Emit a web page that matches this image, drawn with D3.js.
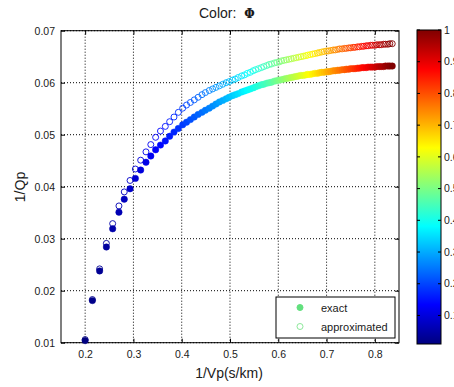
<!DOCTYPE html>
<html>
<head>
<meta charset="utf-8">
<script src="https://cdn.jsdelivr.net/npm/d3@7"></script>
<style>
  body { margin: 0; background: #fff; }
  text { font-family: "Liberation Sans", Arial, sans-serif; fill: #1a1a1a; }
</style>
</head>
<body>
<div id="chart"></div>
<script>
// data
var vpInv = [0.200,0.215,0.230,0.244,0.257,0.270,0.281,0.293,0.304,0.315,
             0.326,0.336,0.346,0.356,0.366,0.375,0.384,0.393,0.402,0.410,
             0.418,0.426,0.434,0.442,0.449,0.457,0.464,0.471,0.478,0.485,
             0.492,0.498,0.505,0.511,0.517,0.524,0.530,0.536,0.542,0.548,
             0.553,0.559,0.565,0.570,0.576,0.581,0.586,0.592,0.597,0.602,
             0.607,0.612,0.617,0.622,0.627,0.632,0.637,0.642,0.647,0.652,
             0.657,0.661,0.666,0.671,0.676,0.681,0.685,0.690,0.695,0.700,
             0.704,0.709,0.714,0.718,0.723,0.727,0.732,0.737,0.741,0.746,
             0.750,0.755,0.759,0.764,0.768,0.773,0.777,0.782,0.786,0.791,
             0.795,0.800,0.804,0.809,0.813,0.818,0.822,0.827,0.831,0.836];

var qExact = [0.0104,0.0181,0.0238,0.0284,0.0319,0.0351,0.0376,0.0396,0.0416,0.0432,
              0.0447,0.0459,0.0471,0.0480,0.0488,0.0497,0.0505,0.0512,0.0519,0.0524,
              0.0529,0.0534,0.0539,0.0543,0.0547,0.0551,0.0555,0.0559,0.0563,0.0566,
              0.0569,0.0572,0.0575,0.0577,0.0579,0.0582,0.0584,0.0586,0.0588,0.0590,
              0.0592,0.0594,0.0596,0.0597,0.0599,0.0600,0.0601,0.0603,0.0604,0.0605,
              0.0606,0.0607,0.0608,0.0609,0.0610,0.0611,0.0612,0.0613,0.0614,0.0614,
              0.0615,0.0616,0.0616,0.0617,0.0618,0.0618,0.0619,0.0620,0.0620,0.0621,
              0.0621,0.0622,0.0623,0.0623,0.0624,0.0624,0.0625,0.0625,0.0626,0.0626,
              0.0627,0.0627,0.0627,0.0628,0.0628,0.0629,0.0629,0.0629,0.0630,0.0630,
              0.0630,0.0630,0.0631,0.0631,0.0631,0.0631,0.0632,0.0632,0.0632,0.0632];

var qApprox = [0.0106,0.0183,0.0242,0.0291,0.0329,0.0363,0.0390,0.0412,0.0434,0.0451,
               0.0467,0.0481,0.0495,0.0507,0.0516,0.0525,0.0534,0.0543,0.0551,0.0557,
               0.0562,0.0567,0.0572,0.0577,0.0581,0.0585,0.0588,0.0591,0.0594,0.0597,
               0.0600,0.0602,0.0605,0.0607,0.0610,0.0613,0.0615,0.0618,0.0620,0.0623,
               0.0625,0.0627,0.0629,0.0631,0.0633,0.0635,0.0636,0.0638,0.0639,0.0640,
               0.0642,0.0643,0.0644,0.0645,0.0646,0.0647,0.0648,0.0649,0.0650,0.0651,
               0.0652,0.0653,0.0654,0.0655,0.0656,0.0657,0.0658,0.0659,0.0660,0.0661,
               0.0661,0.0662,0.0663,0.0663,0.0664,0.0665,0.0665,0.0666,0.0666,0.0667,
               0.0667,0.0668,0.0668,0.0669,0.0669,0.0670,0.0670,0.0671,0.0671,0.0672,
               0.0672,0.0672,0.0673,0.0673,0.0673,0.0674,0.0674,0.0674,0.0675,0.0675];

var phi = [0.01,0.02,0.03,0.04,0.05,0.06,0.07,0.08,0.09,0.10,
           0.11,0.12,0.13,0.14,0.15,0.16,0.17,0.18,0.19,0.20,
           0.21,0.22,0.23,0.24,0.25,0.26,0.27,0.28,0.29,0.30,
           0.31,0.32,0.33,0.34,0.35,0.36,0.37,0.38,0.39,0.40,
           0.41,0.42,0.43,0.44,0.45,0.46,0.47,0.48,0.49,0.50,
           0.51,0.52,0.53,0.54,0.55,0.56,0.57,0.58,0.59,0.60,
           0.61,0.62,0.63,0.64,0.65,0.66,0.67,0.68,0.69,0.70,
           0.71,0.72,0.73,0.74,0.75,0.76,0.77,0.78,0.79,0.80,
           0.81,0.82,0.83,0.84,0.85,0.86,0.87,0.88,0.89,0.90,
           0.91,0.92,0.93,0.94,0.95,0.96,0.97,0.98,0.99,1.00];

var xTicks = [0.2,0.3,0.4,0.5,0.6,0.7,0.8];
var xTickLabels = ["0.2","0.3","0.4","0.5","0.6","0.7","0.8"];
var yTicks = [0.01,0.02,0.03,0.04,0.05,0.06,0.07];
var yTickLabels = ["0.01","0.02","0.03","0.04","0.05","0.06","0.07"];
var cbTicks = [0.1,0.2,0.3,0.4,0.5,0.6,0.7,0.8,0.9,1];
var cbTickLabels = ["0.1","0.2","0.3","0.4","0.5","0.6","0.7","0.8","0.9","1"];
var seriesNames = ["exact","approximated"];

// matlab style jet colormap
function jet(t) {
  function c(v) { return Math.max(0, Math.min(1, v)); }
  var r = c(1.5 - Math.abs(4 * t - 3)),
      g = c(1.5 - Math.abs(4 * t - 2)),
      b = c(1.5 - Math.abs(4 * t - 1));
  return d3.rgb(r * 255, g * 255, b * 255).toString();
}

var margin = {top: 30.7, left: 61},
    width = 338,
    height = 312;

var svg = d3.select("#chart").append("svg")
    .attr("width", 454)
    .attr("height", 387);

var g = svg.append("g")
    .attr("transform", "translate(" + margin.left + "," + margin.top + ")");

var x = d3.scaleLinear().domain([0.15, 0.85]).range([0, width]);
var y = d3.scaleLinear().domain([0.01, 0.07]).range([height, 0]);
var color = d3.scaleSequential(jet).domain([0.01, 1]);

// grid
g.selectAll(".gx").data(xTicks).enter().append("line")
    .attr("x1", function(d) { return x(d); }).attr("x2", function(d) { return x(d); })
    .attr("y1", 0).attr("y2", height)
    .attr("stroke", "#000").attr("stroke-width", 1).attr("stroke-dasharray", "1,2");
g.selectAll(".gy").data(yTicks).enter().append("line")
    .attr("y1", function(d) { return y(d); }).attr("y2", function(d) { return y(d); })
    .attr("x1", 0).attr("x2", width)
    .attr("stroke", "#000").attr("stroke-width", 1).attr("stroke-dasharray", "1,2");

// axes (ticks inward)
var xAxis = g.append("g")
    .attr("transform", "translate(0," + height + ")")
    .call(d3.axisBottom(x).tickValues(xTicks)
      .tickFormat(function(d, i) { return xTickLabels[i]; })
      .tickSize(-4).tickPadding(8));
var yAxis = g.append("g")
    .call(d3.axisLeft(y).tickValues(yTicks)
      .tickFormat(function(d, i) { return yTickLabels[i]; })
      .tickSize(-4).tickPadding(6));
g.append("g").call(d3.axisTop(x).tickValues(xTicks).tickFormat("").tickSize(-4));
g.append("g").attr("transform", "translate(" + width + ",0)")
    .call(d3.axisRight(y).tickValues(yTicks).tickFormat("").tickSize(-4));
g.selectAll(".domain").remove();
g.selectAll(".tick text").style("font-size", "10.5px").style("font-family", "'Liberation Sans', Arial, sans-serif").attr("fill", "#1a1a1a");
g.selectAll(".tick line").attr("stroke", "#000");

// box
g.append("rect").attr("width", width).attr("height", height)
    .attr("fill", "none").attr("stroke", "#000").attr("stroke-width", 1);

// points
var pts = vpInv.map(function(v, i) {
  return {x: v, e: qExact[i], a: qApprox[i], p: phi[i]};
});

g.selectAll(".exact").data(pts).enter().append("circle")
    .attr("cx", function(d) { return x(d.x); })
    .attr("cy", function(d) { return y(d.e); })
    .attr("r", 3.2)
    .attr("fill", function(d) { return color(d.p); })
    .attr("stroke", function(d) { return color(d.p); })
    .attr("stroke-width", 0.5);

g.selectAll(".approx").data(pts).enter().append("circle")
    .attr("cx", function(d) { return x(d.x); })
    .attr("cy", function(d) { return y(d.a); })
    .attr("r", 3)
    .attr("fill", "none")
    .attr("stroke", function(d) { return color(d.p); })
    .attr("stroke-width", 0.9);

// legend
var leg = svg.append("g").attr("transform", "translate(276,297)");
leg.append("rect").attr("width", 119).attr("height", 41)
    .attr("fill", "#fff").attr("stroke", "#000").attr("stroke-width", 1);
leg.append("circle").attr("cx", 24).attr("cy", 10.5).attr("r", 3)
    .attr("fill", "#62e07e").attr("stroke", "#62e07e");
leg.append("circle").attr("cx", 24).attr("cy", 29.5).attr("r", 3)
    .attr("fill", "none").attr("stroke", "#7fe48f").attr("stroke-width", 0.9);
leg.selectAll(".lt").data(seriesNames).enter().append("text")
    .attr("x", 45).attr("y", function(d, i) { return 14.5 + i * 19; })
    .style("font-size", "11px")
    .text(function(d) { return d; });

// colorbar
var cbX = 417, cbW = 24, cbTop = 30, cbH = 314;
var cy = d3.scaleLinear().domain([0.01, 1]).range([cbTop + cbH, cbTop]);
var grad = svg.append("defs").append("linearGradient")
    .attr("id", "jetgrad").attr("x1", 0).attr("y1", 1).attr("x2", 0).attr("y2", 0);
d3.range(0, 65).forEach(function(k) {
  grad.append("stop").attr("offset", k / 64).attr("stop-color", jet(k / 64));
});
svg.append("rect").attr("x", cbX).attr("y", cbTop).attr("width", cbW).attr("height", cbH)
    .attr("fill", "url(#jetgrad)").attr("stroke", "#000").attr("stroke-width", 1);
var cb = svg.append("g");
cb.selectAll(".cl").data(cbTicks).enter().append("line")
    .attr("x1", cbX).attr("x2", cbX + 3)
    .attr("y1", function(d) { return cy(d); }).attr("y2", function(d) { return cy(d); })
    .attr("stroke", "#000");
cb.selectAll(".cr").data(cbTicks).enter().append("line")
    .attr("x1", cbX + cbW - 3).attr("x2", cbX + cbW)
    .attr("y1", function(d) { return cy(d); }).attr("y2", function(d) { return cy(d); })
    .attr("stroke", "#000");
cb.selectAll(".ct").data(cbTicks).enter().append("text")
    .attr("x", cbX + cbW + 3)
    .attr("y", function(d) { return cy(d); })
    .attr("dy", "0.35em")
    .style("font-size", "10.5px")
    .text(function(d, i) { return cbTickLabels[i]; });

// title and axis labels
var title = svg.append("text").attr("x", 199).attr("y", 18).style("font-size", "14px");
title.append("tspan").text("Color: ");
title.append("tspan").attr("dx", 4)
    .style("font-family", "'DejaVu Serif', serif").style("font-weight", "bold")
    .style("font-size", "12px").text("Φ");

svg.append("text").attr("x", 229).attr("y", 378)
    .attr("text-anchor", "middle").style("font-size", "14px").text("1/Vp(s/km)");
svg.append("text")
    .attr("transform", "translate(25,187) rotate(-90)")
    .attr("text-anchor", "middle").style("font-size", "14px").text("1/Qp");
</script>
</body>
</html>
